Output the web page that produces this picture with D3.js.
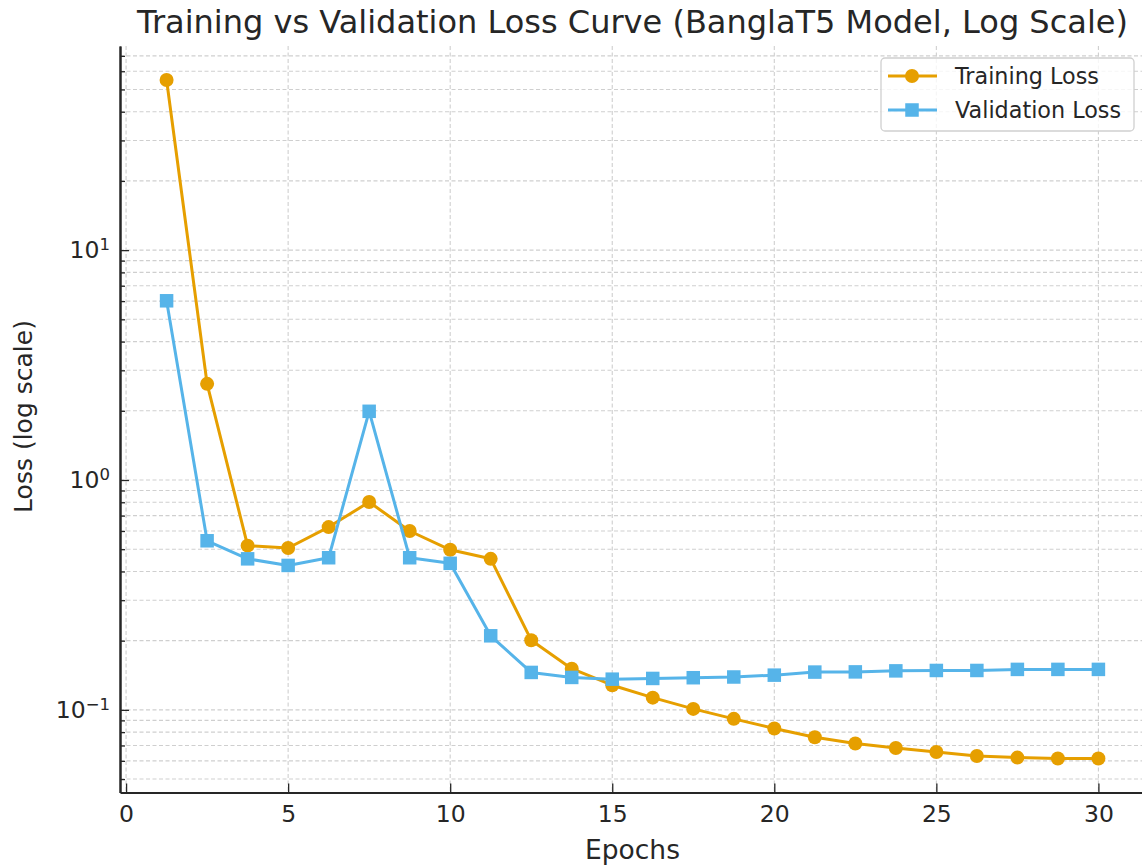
<!DOCTYPE html>
<html>
<head>
<meta charset="utf-8">
<script src="https://cdn.jsdelivr.net/npm/d3@7"></script>
<style>
  body { margin: 0; background: #fff; }
  svg { display: block; font-family: 'DejaVu Sans', sans-serif; }
</style>
</head>
<body>
<svg width="1142" height="865"></svg>
<script>
const epochs = [1.25, 2.5, 3.75, 5, 6.25, 7.5, 8.75, 10, 11.25, 12.5, 13.75, 15,
  16.25, 17.5, 18.75, 20, 21.25, 22.5, 23.75, 25, 26.25, 27.5, 28.75, 30]
const trainingLoss = [55.0, 2.62, 0.518, 0.506, 0.624, 0.802, 0.600, 0.497, 0.454, 0.201, 0.151, 0.128,
  0.113, 0.101, 0.0914, 0.083, 0.076, 0.0714, 0.0683, 0.0656, 0.063, 0.062, 0.0614, 0.0614]
const validationLoss = [6.02, 0.544, 0.454, 0.425, 0.459, 1.99, 0.459, 0.434, 0.210, 0.1455, 0.1384, 0.136,
  0.137, 0.138, 0.139, 0.1416, 0.146, 0.1463, 0.1478, 0.1484, 0.1484, 0.150, 0.150, 0.150]
const xTicks = [0, 5, 10, 15, 20, 25, 30]
const yMajor = [0.1, 1, 10]
const series = [
  { name: 'Training Loss', values: trainingLoss, color: '#E69F00', marker: 'circle' },
  { name: 'Validation Loss', values: validationLoss, color: '#56B4E9', marker: 'square' }
]

const root = d3.select('svg')
const plot = { left: 120, right: 1145, top: 46, bottom: 792.5 }
const ink = '#262626'

// matplotlib style 5% margins
const pad = (lo, hi) => {
  const m = (hi - lo) * 0.05
  return [lo - m, hi + m]
}
const allLoss = trainingLoss.concat(validationLoss)
const yLog = pad(Math.log10(d3.min(allLoss)), Math.log10(d3.max(allLoss)))

const x = d3.scaleLinear()
  .domain(pad(d3.min(epochs), d3.max(epochs)))
  .range([plot.left, plot.right])
const y = d3.scaleLog()
  .domain(yLog.map(v => 10 ** v))
  .range([plot.bottom, plot.top])

const isMajor = v => Math.abs(Math.log10(v) - Math.round(Math.log10(v))) < 1e-6
const yMinor = y.ticks().filter(v => !isMajor(v))

// grid
const grid = root.append('g')
  .attr('stroke', '#cfcfcf')
  .attr('stroke-width', 1.1)
  .attr('stroke-dasharray', '4,2.5')

grid.selectAll('line.gy')
  .data(y.ticks())
  .join('line')
  .attr('class', 'gy')
  .attr('x1', plot.left)
  .attr('x2', plot.right)
  .attr('y1', d => y(d))
  .attr('y2', d => y(d))

grid.selectAll('line.gx')
  .data(xTicks)
  .join('line')
  .attr('class', 'gx')
  .attr('x1', d => x(d))
  .attr('x2', d => x(d))
  .attr('y1', plot.top)
  .attr('y2', plot.bottom)

// axes
function styleAxis (g) {
  g.attr('font-family', null).attr('font-size', 23.5)
  g.select('.domain').attr('stroke', ink).attr('stroke-width', 2)
  g.selectAll('.tick line').attr('stroke', ink).attr('stroke-width', 1.3)
  g.selectAll('.tick text').attr('fill', ink)
}

root.append('g')
  .attr('transform', `translate(0,${plot.bottom})`)
  .call(d3.axisBottom(x).tickValues(xTicks).tickSizeInner(-9).tickSizeOuter(0).tickPadding(13))
  .call(styleAxis)

root.append('g')
  .attr('transform', `translate(${plot.left},0)`)
  .call(d3.axisLeft(y).tickValues(yMinor).tickSizeInner(-5).tickSizeOuter(0).tickFormat(''))
  .call(styleAxis)

const gy = root.append('g')
  .attr('transform', `translate(${plot.left},0)`)
  .call(d3.axisLeft(y).tickValues(yMajor).tickSizeInner(-9).tickSizeOuter(0).tickPadding(10).tickFormat(''))
  .call(styleAxis)

gy.selectAll('.tick text').each(function (d) {
  const t = d3.select(this)
  const e = Math.round(Math.log10(d))
  t.append('tspan').text('10')
  t.append('tspan')
    .attr('dy', '-0.5em')
    .attr('font-size', 16.5)
    .text(e < 0 ? '\u2212' + (-e) : e)
})

// series
const line = d3.line()
  .x((d, i) => x(epochs[i]))
  .y(d => y(d))

const sq = 13.5
series.forEach(s => {
  const g = root.append('g')
  g.append('path')
    .attr('d', line(s.values))
    .attr('fill', 'none')
    .attr('stroke', s.color)
    .attr('stroke-width', 3)
    .attr('stroke-linejoin', 'round')

  if (s.marker === 'circle') {
    g.selectAll('circle')
      .data(s.values)
      .join('circle')
      .attr('cx', (d, i) => x(epochs[i]))
      .attr('cy', d => y(d))
      .attr('r', 7)
      .attr('fill', s.color)
  } else {
    g.selectAll('rect')
      .data(s.values)
      .join('rect')
      .attr('x', (d, i) => x(epochs[i]) - sq / 2)
      .attr('y', d => y(d) - sq / 2)
      .attr('width', sq)
      .attr('height', sq)
      .attr('fill', s.color)
  }
})

// titles
root.append('text')
  .attr('x', (plot.left + plot.right) / 2)
  .attr('y', 33)
  .attr('text-anchor', 'middle')
  .attr('font-size', 32)
  .attr('fill', ink)
  .text('Training vs Validation Loss Curve (BanglaT5 Model, Log Scale)')

root.append('text')
  .attr('x', (plot.left + plot.right) / 2)
  .attr('y', 859)
  .attr('text-anchor', 'middle')
  .attr('font-size', 26.5)
  .attr('fill', ink)
  .text('Epochs')

root.append('text')
  .attr('transform', `translate(32,${(320 + 513) / 2}) rotate(-90)`)
  .attr('text-anchor', 'middle')
  .attr('font-size', 25)
  .attr('fill', ink)
  .text('Loss (log scale)')

// legend
const legend = root.append('g').attr('transform', 'translate(881,58)')
legend.append('rect')
  .attr('width', 253)
  .attr('height', 73)
  .attr('rx', 4)
  .attr('fill', '#fff')
  .attr('fill-opacity', 0.8)
  .attr('stroke', '#d0d0d0')
  .attr('stroke-width', 1.3)

const item = legend.selectAll('g.item')
  .data(series)
  .join('g')
  .attr('class', 'item')
  .attr('transform', (d, i) => `translate(0,${18 + i * 34})`)

item.append('line')
  .attr('x1', 7)
  .attr('x2', 56)
  .attr('stroke', d => d.color)
  .attr('stroke-width', 3)

item.filter(d => d.marker === 'circle')
  .append('circle')
  .attr('cx', 31)
  .attr('r', 7)
  .attr('fill', d => d.color)

item.filter(d => d.marker === 'square')
  .append('rect')
  .attr('x', 31 - sq / 2)
  .attr('y', -sq / 2)
  .attr('width', sq)
  .attr('height', sq)
  .attr('fill', d => d.color)

item.append('text')
  .attr('x', 74)
  .attr('dy', '0.35em')
  .attr('font-size', 22.3)
  .attr('fill', ink)
  .text(d => d.name)
</script>
</body>
</html>
